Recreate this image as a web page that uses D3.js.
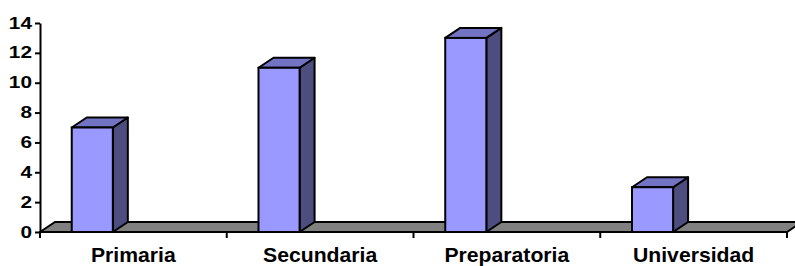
<!DOCTYPE html>
<meta charset="utf-8">
<style>
body { margin: 0; background: #fff; }
svg text { font-family: "Liberation Sans", Arial, sans-serif; font-weight: bold; fill: #000; }
</style>
<body>
<script src="https://d3js.org/d3.v7.min.js"></script>
<script>
// data
var categories = ["Primaria", "Secundaria", "Preparatoria", "Universidad"];
var values = [7, 11, 13, 3];
var yTicks = [0, 2, 4, 6, 8, 10, 12, 14];

var width = 795, height = 266;
var depthX = 15, depthY = -10;   // oblique 3d offset

var svg = d3.select("body").append("svg")
    .attr("width", width)
    .attr("height", height);

// scales
var x = d3.scaleBand().domain(categories).range([40, 787]).paddingInner(0).paddingOuter(0);
var y = d3.scaleLinear().domain([0, 14]).range([232, 23]);

var barOff = x.bandwidth() * 0.17,
    barW = x.bandwidth() * 0.22;

// floor
var x0 = x.range()[0], x1 = x.range()[1], y0 = y(0);
svg.append("path")
    .attr("d", "M" + x0 + "," + y0 + "L" + (x0 + depthX) + "," + (y0 + depthY) +
               "L" + (x1 + depthX) + "," + (y0 + depthY) + "L" + x1 + "," + y0 + "Z")
    .attr("fill", "#808080")
    .attr("stroke", "#000")
    .attr("stroke-width", 2)
    .attr("stroke-linejoin", "miter");

// category ticks below the floor
svg.selectAll(".ctick")
    .data(categories.map(function(c) { return x(c); }).concat([x1]))
  .enter().append("line")
    .attr("x1", function(d) { return d; })
    .attr("x2", function(d) { return d; })
    .attr("y1", y0)
    .attr("y2", y0 + 6)
    .attr("stroke", "#000")
    .attr("stroke-width", 2);

// bars
var bars = svg.selectAll(".bar")
    .data(categories.map(function(c, i) { return {cat: c, val: values[i]}; }))
  .enter().append("g")
    .attr("class", "bar");

bars.append("path") // side
    .attr("d", function(d) {
      var bx = x(d.cat) + barOff + barW, ty = y(d.val);
      return "M" + bx + "," + ty + "L" + (bx + depthX) + "," + (ty + depthY) +
             "L" + (bx + depthX) + "," + (y0 + depthY) + "L" + bx + "," + y0 + "Z";
    })
    .attr("fill", "#4d4d80")
    .attr("stroke", "#000")
    .attr("stroke-width", 2)
    .attr("stroke-linejoin", "round");

bars.append("path") // top
    .attr("d", function(d) {
      var bx = x(d.cat) + barOff, ty = y(d.val);
      return "M" + bx + "," + ty + "L" + (bx + depthX) + "," + (ty + depthY) +
             "L" + (bx + barW + depthX) + "," + (ty + depthY) + "L" + (bx + barW) + "," + ty + "Z";
    })
    .attr("fill", "#7373c4")
    .attr("stroke", "#000")
    .attr("stroke-width", 2)
    .attr("stroke-linejoin", "round");

bars.append("rect") // front
    .attr("x", function(d) { return x(d.cat) + barOff; })
    .attr("y", function(d) { return y(d.val); })
    .attr("width", barW)
    .attr("height", function(d) { return y0 - y(d.val); })
    .attr("fill", "#9999ff")
    .attr("stroke", "#000")
    .attr("stroke-width", 2);

// y axis
var yAxis = svg.append("g")
    .attr("transform", "translate(40,0)")
    .call(d3.axisLeft(y).tickValues(yTicks).tickSize(5).tickSizeOuter(0).tickPadding(4));
yAxis.select(".domain").attr("stroke", "#000").attr("stroke-width", 2);
yAxis.selectAll(".tick line").attr("stroke", "#000").attr("stroke-width", 2);
yAxis.selectAll(".tick text")
    .style("font-size", "16px")
    .attr("x", 0)
    .attr("transform", "translate(-8,0) scale(1.3,1)");

// category labels
svg.selectAll(".clabel")
    .data(categories)
  .enter().append("text")
    .attr("x", function(c) { return x(c) + x.bandwidth() / 2; })
    .attr("y", 262)
    .attr("text-anchor", "middle")
    .style("font-size", "20px")
    .attr("transform", function(c) {
      var cx = x(c) + x.bandwidth() / 2;
      return "translate(" + cx + ",0) scale(1.06,1) translate(" + (-cx) + ",0)";
    })
    .text(function(c) { return c; });
</script>
</body>
